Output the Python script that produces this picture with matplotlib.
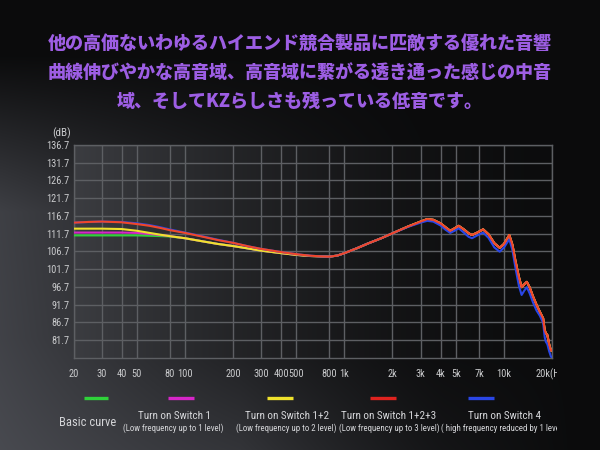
import matplotlib
matplotlib.use('Agg')
import matplotlib.pyplot as plt
import numpy as np
from matplotlib import font_manager
from matplotlib.lines import Line2D
from matplotlib.transforms import Bbox, TransformedBbox

# ---------------- data ----------------
freq = [20, 25, 30, 40, 50, 60, 70, 80, 100, 130, 160, 200, 250, 300, 400, 500,
        600, 700, 800, 900, 1000, 1200, 1400, 1700, 2000, 2500, 3000, 3300, 3600, 4000, 4300, 4600,
        4900, 5200, 5600, 6000, 6300, 6800, 7400, 8000, 8700, 9400, 10000, 10800, 11300, 11800, 12400, 12900,
        13400, 13900, 14500, 15200, 16000, 16800, 17600, 18000, 18300, 18700, 19200, 19700, 20000]

basic_curve = [111.2, 111.2, 111.2, 111.2, 111.2, 111.1, 111.0, 110.9, 110.4, 109.5, 108.8, 108.2, 107.5, 106.9, 106.2, 105.7,
               105.4, 105.3, 105.2, 105.5, 106.2, 107.6, 108.9, 110.4, 111.8, 113.7, 115.1, 115.8, 115.6, 114.6, 113.5, 112.5,
               113.2, 113.9, 112.9, 111.8, 111.3, 112.0, 112.9, 111.5, 109.0, 107.7, 108.8, 111.3, 108.5, 104.0, 99.5, 96.6,
               97.4, 98.1, 96.5, 94.0, 91.6, 89.6, 87.8, 84.5, 83.6, 83.1, 80.5, 78.7, 78.8]
switch_1 = [112.0, 112.0, 112.0, 112.0, 111.9, 111.6, 111.3, 111.0, 110.4, 109.5, 108.8, 108.2, 107.5, 106.9, 106.2, 105.7,
            105.4, 105.3, 105.2, 105.5, 106.2, 107.6, 108.9, 110.4, 111.8, 113.7, 115.1, 115.8, 115.6, 114.6, 113.5, 112.5,
            113.2, 113.9, 112.9, 111.8, 111.3, 112.0, 112.9, 111.5, 109.0, 107.7, 108.8, 111.3, 108.5, 104.0, 99.5, 96.6,
            97.4, 98.1, 96.5, 94.0, 91.6, 89.6, 87.8, 84.5, 83.6, 83.1, 80.5, 78.7, 78.8]
switch_12 = [113.1, 113.1, 113.1, 113.0, 112.5, 111.9, 111.4, 111.0, 110.4, 109.5, 108.8, 108.2, 107.5, 106.9, 106.2, 105.7,
             105.4, 105.3, 105.2, 105.5, 106.2, 107.6, 108.9, 110.4, 111.8, 113.7, 115.1, 115.8, 115.6, 114.6, 113.5, 112.5,
             113.2, 113.9, 112.9, 111.8, 111.3, 112.0, 112.9, 111.5, 109.0, 107.7, 108.8, 111.3, 108.5, 104.0, 99.5, 96.6,
             97.4, 98.1, 96.5, 94.0, 91.6, 89.6, 87.8, 84.5, 83.6, 83.1, 80.5, 78.7, 78.8]
switch_123 = [114.8, 115.0, 115.1, 114.9, 114.4, 113.9, 113.3, 112.7, 111.9, 110.8, 109.9, 109.1, 108.1, 107.4, 106.5, 105.9,
              105.5, 105.3, 105.2, 105.5, 106.2, 107.6, 108.9, 110.4, 111.8, 113.7, 115.1, 115.8, 115.6, 114.6, 113.5, 112.5,
              113.2, 113.9, 112.9, 111.8, 111.3, 112.0, 112.9, 111.5, 109.0, 107.7, 108.8, 111.3, 108.5, 104.0, 99.5, 96.6,
              97.4, 98.1, 96.5, 94.0, 91.6, 89.6, 87.8, 84.5, 83.6, 83.1, 80.5, 78.7, 78.8]
switch_4 = [114.8, 115.0, 115.1, 115.0, 114.6, 114.1, 113.5, 112.9, 112.0, 110.9, 110.0, 109.1, 108.1, 107.4, 106.5, 105.9,
            105.5, 105.3, 105.2, 105.5, 106.2, 107.6, 108.9, 110.4, 111.8, 113.6, 114.8, 115.3, 115.1, 114.0, 112.8, 111.9,
            112.5, 113.2, 112.0, 110.8, 110.4, 111.2, 112.0, 110.5, 107.8, 106.6, 107.8, 110.1, 107.0, 102.0, 97.0, 94.4,
            95.6, 96.6, 94.8, 92.3, 90.0, 88.5, 86.5, 82.5, 81.2, 80.5, 78.5, 77.0, 76.8]

x_ticks = [20, 30, 40, 50, 80, 100, 200, 300, 400, 500, 800, 1000, 2000, 3000, 4000, 5000, 7000, 10000, 20000]
x_tick_labels = ['20', '30', '40', '50', '80', '100', '200', '300', '400', '500', '800', '1k',
                 '2k', '3k', '4k', '5k', '7k', '10k', '20k(Hz)']
y_ticks = [81.7, 86.7, 91.7, 96.7, 101.7, 106.7, 111.7, 116.7, 121.7, 126.7, 131.7, 136.7]
y_tick_labels = ['81.7', '86.7', '91.7', '96.7', '101.7', '106.7', '111.7', '116.7', '121.7', '126.7', '131.7', '136.7']

series_names = ['Basic curve', 'Turn on Switch 1', 'Turn on Switch 1+2', 'Turn on Switch 1+2+3', 'Turn on Switch 4']
series_notes = ['', '(Low frequency up to 1 level)', '(Low frequency up to 2 level)',
                '(Low frequency up to 3 level)', '( high frequency reduced by 1 level)']
series_values = [basic_curve, switch_1, switch_12, switch_4, switch_123]
draw_colors = ['#2fd23a', '#d626c8', '#efe22c', '#2a46e6', '#f0462a']
legend_colors = ['#2fd23a', '#d626c8', '#efe22c', '#e0231f', '#2a46e6']

title_lines = ['他の高価ないわゆるハイエンド競合製品に匹敵する優れた音響',
               '曲線伸びやかな高音域、高音域に繋がる透き通った感じの中音',
               '域、そしてKZらしさも残っている低音です。']

# ---------------- fonts ----------------
names = {f.name for f in font_manager.fontManager.ttflist}
narrow = next((n for n in ['Liberation Sans Narrow', 'Roboto Condensed', 'Open Sans Condensed']
               if n in names), None)
cjk = ['Noto Sans CJK JP', 'DejaVu Sans']

W, H = 600, 450
fig = plt.figure(figsize=(6, 4.5), dpi=100)

# ---------------- background ----------------
bg = fig.add_axes([0, 0, 1, 1])
bg.set_axis_off()
yy, xx = np.mgrid[0:H, 0:W]
xn = xx / W
yn = yy / H
beam = np.clip((yn - 0.12) / 0.35, 0, 1) * np.clip(1 - xn * 1.35, 0, 1) ** 1.4
bottom_glow = np.clip((yn - 0.75) / 0.25, 0, 1) * np.clip(1 - np.abs(xn - 0.4) * 1.8, 0, 1)
L = 0.045 + 0.20 * beam + 0.08 * bottom_glow + 0.035 * np.clip((yn - 0.2), 0, 1) * (1 - xn)
img = np.dstack([L * 0.96, L * 0.98, L * 1.06])
bg.imshow(np.clip(img, 0, 1), extent=[0, 1, 0, 1], aspect='auto', origin='upper')
bg.set_xlim(0, 1)
bg.set_ylim(0, 1)

# ---------------- title ----------------
for i, line in enumerate(title_lines):
    fig.text(0.5, 1 - (43 + 29 * i) / H, line, ha='center', va='center', fontsize=13,
             fontweight='heavy', color='#9d5ee4', family=cjk)

# ---------------- axes ----------------
ax_left, ax_right, ax_top, ax_bottom = 73.5, 552, 145, 357.7
ax = fig.add_axes([ax_left / W, 1 - ax_bottom / H, (ax_right - ax_left) / W, (ax_bottom - ax_top) / H])
ax.set_xscale('log')
ax.set_xlim(20, 20000)
ax.set_ylim(76.7, 136.7)
ax.patch.set_alpha(0)

u = np.linspace(0, 1, 300)[None, :]
La = 0.05 + 0.19 * (1 - u) ** 1.7
pimg = np.dstack([La * 0.97, La * 0.99, La * 1.06])
ax.imshow(pimg, extent=[0, 1, 0, 1], transform=ax.transAxes, aspect='auto', zorder=0)

grid_c = '#5d5f63'
for yv in y_ticks:
    ax.axhline(yv, color=grid_c, lw=1.0, zorder=1)
for xv in x_ticks:
    ax.axvline(xv, color=grid_c, lw=1.0, zorder=1)
for s in ax.spines.values():
    s.set_color(grid_c)
    s.set_linewidth(1.0)

for vals, c in zip(series_values, draw_colors):
    ax.plot(freq, vals, color=c, lw=1.5, zorder=3, solid_joinstyle='round')

tick_font = dict(family=narrow) if narrow else dict(family='DejaVu Sans', stretch='condensed')
tick_size = 7.5 if narrow else 6.2
ax.set_xticks(x_ticks)
ax.set_xticklabels(x_tick_labels, color='#c9cacc', fontsize=tick_size, **tick_font)
ax.set_yticks(y_ticks)
ax.set_yticklabels(y_tick_labels, color='#c9cacc', fontsize=tick_size, **tick_font)
ax.xaxis.set_minor_locator(matplotlib.ticker.NullLocator())
ax.tick_params(axis='x', length=0, pad=8)
ax.tick_params(axis='y', length=0, pad=3)

clip_box = TransformedBbox(Bbox([[0, 0], [557 / W, 1]]), fig.transFigure)
for lbl in ax.get_xticklabels():
    lbl.set_clip_on(True)
    lbl.set_clip_box(clip_box)

fig.text(52 / W, 1 - 133 / H, '(dB)', ha='left', va='center', color='#c9cacc',
         fontsize=tick_size + 0.5, **tick_font)

# ---------------- legend ----------------
seg_x = [(84, 108), (168, 194), (267, 293), (370, 396), (468, 494)]
label_cx = [88, 175, 287, 389, 505]
note_cx = [0, 173, 286, 389, 503]
for (x0, x1), c in zip(seg_x, legend_colors):
    fig.add_artist(Line2D([x0 / W, x1 / W], [1 - 398 / H] * 2, transform=fig.transFigure,
                          color=c, lw=2.4, solid_capstyle='butt'))

leg_big = 9.0 if narrow else 7.5
leg_mid = 8.0 if narrow else 6.5
leg_small = 6.4 if narrow else 5.3
fig.text(88 / W, 1 - 423 / H, series_names[0], ha='center', va='center', color='#d4d5d8',
         fontsize=leg_big, **tick_font)
for name, note, cx, ncx in zip(series_names[1:], series_notes[1:], label_cx[1:], note_cx[1:]):
    fig.text(cx / W, 1 - 416 / H, name, ha='center', va='center', color='#d4d5d8',
             fontsize=leg_mid, **tick_font)
    t = fig.text(ncx / W, 1 - 428.5 / H, note, ha='center', va='center', color='#d4d5d8',
                 fontsize=leg_small, **tick_font)
    t.set_clip_on(True)
    t.set_clip_box(clip_box)

fig.savefig('out.png', dpi=100)
